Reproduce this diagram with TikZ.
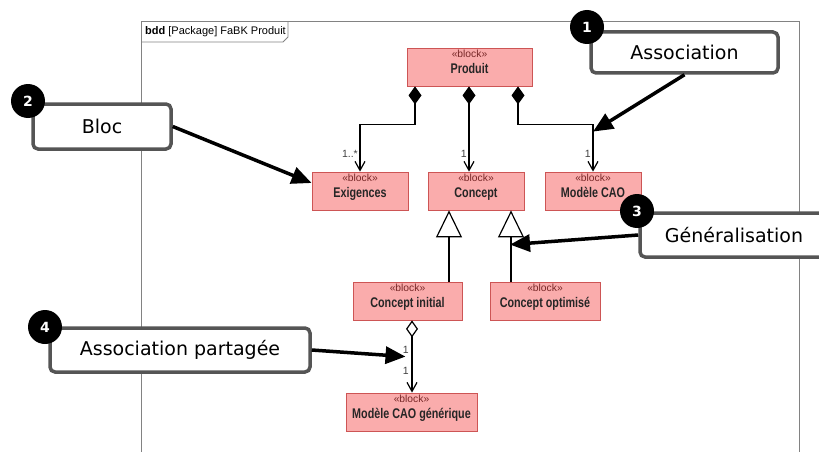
\documentclass[tikz,border=0pt]{standalone}
\usepackage{fontspec}
\setmainfont{Liberation Sans}
\newfontfamily\callfont{DejaVu Sans}
\newfontfamily\blockfont[FakeStretch=0.77]{Liberation Sans}
\usetikzlibrary{arrows.meta}
\definecolor{blockfill}{RGB}{250,172,172}
\definecolor{blockline}{RGB}{205,85,85}
\definecolor{stereocol}{RGB}{120,40,40}
\definecolor{calloutline}{RGB}{85,85,85}
\definecolor{framecol}{RGB}{130,130,130}

\begin{document}
\begin{tikzpicture}[x=1pt, y=-1pt,
    block/.style={draw=blockline, fill=blockfill, line width=0.8pt, minimum height=38pt, inner sep=0pt, text height=15pt, text depth=2pt, font=\blockfont\fontsize{14}{16}\selectfont\bfseries, text=black!85, label={[stereo]north:«block»}},
    stereo/.style={anchor=north, inner sep=0pt, yshift=-2pt, font=\fontsize{10.3}{11}\selectfont, text=stereocol},
    mult/.style={font=\fontsize{10.5}{12}\selectfont, text=black!75, inner sep=1pt},
    comp/.style={line width=1.2pt, {Diamond[length=18pt,width=13pt]}-{Straight Barb[length=9pt,width=10pt]}},
    share/.style={line width=1.2pt, {Diamond[open,fill=white,length=17pt,width=12pt]}-{Straight Barb[length=9pt,width=10pt]}},
    gen/.style={line width=1.2pt, -{Triangle[open,fill=white,length=27pt,width=26pt]}},
    callout/.style={draw=calloutline, fill=white, line width=3.5pt, rounded corners=5pt, font=\callfont\fontsize{19}{22}\selectfont, inner sep=0pt},
    badge/.style={circle, fill=black, text=white, minimum size=34pt, inner sep=0pt, font=\callfont\bfseries\fontsize{14}{16}\selectfont},
    callarrow/.style={line width=3.5pt, -{Triangle[length=20pt,width=17pt]}}]
        \useasboundingbox (0,0) rectangle (819,452);

        % Frame
        \draw[framecol, line width=1pt] (141,470) -- (141,22) -- (799,22) -- (799,470);
        \draw[framecol, line width=0.8pt] (141,42) -- (283,42) -- (288,37) -- (288,22);
        \node[anchor=west, inner sep=0pt, font=\fontsize{11}{13}\selectfont] (title) at (145,32) {\textbf{bdd} [Package] FaBK Produit};

        % Blocks
        \node[block, minimum width=125pt] (prod) at (469.5,67) {Produit};
        \node[block, minimum width=96pt] (exig) at (360,191) {Exigences};
        \node[block, minimum width=96pt] (concept) at (476,191) {Concept};
        \node[block, minimum width=96pt] (cao) at (593,191) {Modèle CAO};
        \node[block, minimum width=109pt] (cinit) at (407.5,301) {Concept initial};
        \node[block, minimum width=110pt] (copt) at (545,301) {Concept optimisé};
        \node[block, minimum width=131pt] (caogen) at (411.5,412) {Modèle CAO générique};

        % Composition
        \draw[comp] ([xshift=-54.5pt]prod.south) -- ++(0,38) -| (exig.north);
        \draw[comp] ([xshift=-0.5pt]prod.south) -- ([xshift=-7pt]concept.north);
        \draw[comp] ([xshift=48.5pt]prod.south) -- ++(0,38) -| (cao.north);
        \node[mult, anchor=south east] (m1) at ([xshift=-1pt,yshift=13pt]exig.north) {1..*};
        \node[mult, anchor=south east] (m2) at ([xshift=-8pt,yshift=13pt]concept.north) {1};
        \node[mult, anchor=south east] (m3) at ([xshift=-1pt,yshift=13pt]cao.north) {1};

        % Generalisation
        \draw[gen] ([xshift=41.5pt]cinit.north) -- ([xshift=41.5pt]cinit.north |- concept.south);
        \draw[gen] ([xshift=-34pt]copt.north) -- ([xshift=-34pt]copt.north |- concept.south);

        % Shared association
        \draw[share] ([xshift=4.5pt]cinit.south) -- ([xshift=4.5pt]cinit.south |- caogen.north);
        \node[mult, anchor=east] (m4) at ([xshift=-1.5pt,yshift=43pt]caogen.north) {1};
        \node[mult, anchor=east] (m5) at ([xshift=-1.5pt,yshift=22pt]caogen.north) {1};

        % Callouts
        \node[callout, minimum width=187pt, minimum height=41pt] (assoc) at (684.5,52.5) {Association};
        \node[callout, minimum width=138pt, minimum height=45pt] (bloc) at (102,126.5) {Bloc};
        \node[callout, minimum width=188pt, minimum height=44pt] (gener) at (734,235) {Généralisation};
        \node[callout, minimum width=260pt, minimum height=44pt] (partage) at (180,350) {Association partagée};

        \draw[callarrow] (assoc.south) -- ([yshift=40pt]cao.north);
        \draw[callarrow] (bloc.east) -- ([yshift=8pt]exig.west);
        \draw[callarrow] (gener.west) -- ([xshift=-35pt,yshift=37pt]copt.north);
        \draw[callarrow] (partage.east) -- ([xshift=-6pt,yshift=36pt]caogen.north);

        % Badges
        \node[badge] (b1) at (587,27) {1};
        \node[badge] (b2) at (28,101) {2};
        \node[badge] (b3) at (637,211) {3};
        \node[badge] (b4) at (45,327) {4};
    \end{tikzpicture}
\end{document}
